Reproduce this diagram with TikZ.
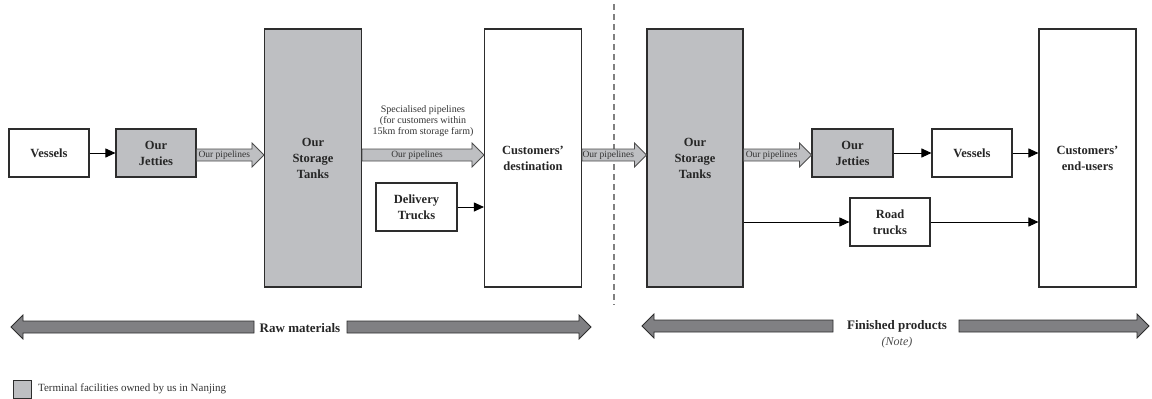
\documentclass[tikz,border=0pt]{standalone}
\usepackage{fontspec}
\setmainfont{Liberation Serif}
\usetikzlibrary{arrows.meta,positioning,calc}
\definecolor{owned}{RGB}{190,191,194}
\definecolor{bandgray}{RGB}{128,128,131}
\definecolor{edge}{RGB}{45,45,45}

\begin{document}
\begin{tikzpicture}[x=1pt,y=-1pt,
  box/.style={draw=edge, line width=1.1pt, fill=white, minimum width=80pt, minimum height=48pt,
    align=center, inner sep=2pt, text=black!85, font=\fontsize{12.5}{16}\selectfont\bfseries},
  own/.style={box, fill=owned},
  tall/.style={minimum width=97pt, minimum height=258pt},
  pipe/.style={draw=edge!85, line width=0.8pt, fill=owned},
  pipelbl/.style={font=\fontsize{9.5}{11}\selectfont, inner sep=0pt, text=black!80},
  band/.style={draw=edge, line width=0.8pt, fill=bandgray},
  conn/.style={line width=0.9pt, -{Triangle[length=10pt,width=9pt]}}]
\useasboundingbox (0,0) rectangle (1152,399);

% raw materials side
\node[box] (ves1) at (49,153) {Vessels};
\node[own] (jet1) at (156,153) {Our\\Jetties};
\node[own, tall] (tank1) at (313,158) {Our\\Storage\\Tanks};
\node[box, tall] (cust1) at (533,158) {Customers'\\destination};
\node[box, minimum width=81pt] (del) at (416.5,207) {Delivery\\Trucks};

% finished products side
\node[own, tall, minimum width=96pt] (tank2) at (695,158) {Our\\Storage\\Tanks};
\node[own, minimum width=81pt] (jet2) at (852.5,153) {Our\\Jetties};
\node[box] (ves2) at (972,153) {Vessels};
\node[box] (road) at (890,222) {Road\\trucks};
\node[box, tall] (end) at (1087.5,158) {Customers'\\end-users};

\draw[gray, line width=1.2pt, dash pattern=on 6pt off 4pt] (614,4) -- (614,305);

% pipelines
\coordinate (pl) at (0,155);
\foreach \a/\b in {jet1/tank1, tank1/cust1, cust1/tank2, tank2/jet2} {
  \draw[pipe] ($(\a.east |- pl)+(0,-6)$) -- ($(\b.west |- pl)+(-12,-6)$) -- ($(\b.west |- pl)+(-12,-12)$)
    -- (\b.west |- pl) -- ($(\b.west |- pl)+(-12,12)$) -- ($(\b.west |- pl)+(-12,6)$)
    -- ($(\a.east |- pl)+(0,6)$) -- cycle;
  \node[pipelbl] at ($(\a.east |- pl)!.5!(\b.west |- pl)+(-6,0)$) {Our pipelines};
}
\node[align=center, font=\fontsize{10}{10.8}\selectfont, text=black!80] (spec) at (423,121)
  {Specialised pipelines\\(for customers within\\15km from storage farm)};

% trucks and vessels
\draw[conn] (ves1) -- (jet1);
\draw[conn] (del.east) -- (del.east -| cust1.west);
\draw[conn] (jet2) -- (ves2);
\draw[conn] (ves2.east) -- (ves2.east -| end.west);
\draw[conn] (tank2.east |- road.west) -- (road.west);
\draw[conn] (road.east) -- (road.east -| end.west);

% bands
\foreach \t/\b/\e/\y in {11/23/254/327, 591/579/347/327, 642/654/833/326, 1149/1137/959/326}
  \draw[band] (\e,\y-6) -- (\b,\y-6) -- (\b,\y-12) -- (\t,\y) -- (\b,\y+12) -- (\b,\y+6) -- (\e,\y+6) -- cycle;
\node[font=\fontsize{13}{15}\selectfont\bfseries, text=black!85] (raw) at (300,328) {Raw materials};
\node[font=\fontsize{13}{15}\selectfont\bfseries, text=black!85] (fin) at (897,326) {Finished products};
\node[font=\fontsize{12}{14}\selectfont\itshape, text=black!70] (note) at (897,343) {(Note)};

% legend
\node[draw=edge, fill=owned, line width=0.8pt, minimum size=18pt, inner sep=0pt] (key) at (22.5,389) {};
\node[right=6pt of key, inner sep=0pt, font=\fontsize{11}{13}\selectfont, text=black!80] (keytext)
  {Terminal facilities owned by us in Nanjing};
\end{tikzpicture}
\end{document}
